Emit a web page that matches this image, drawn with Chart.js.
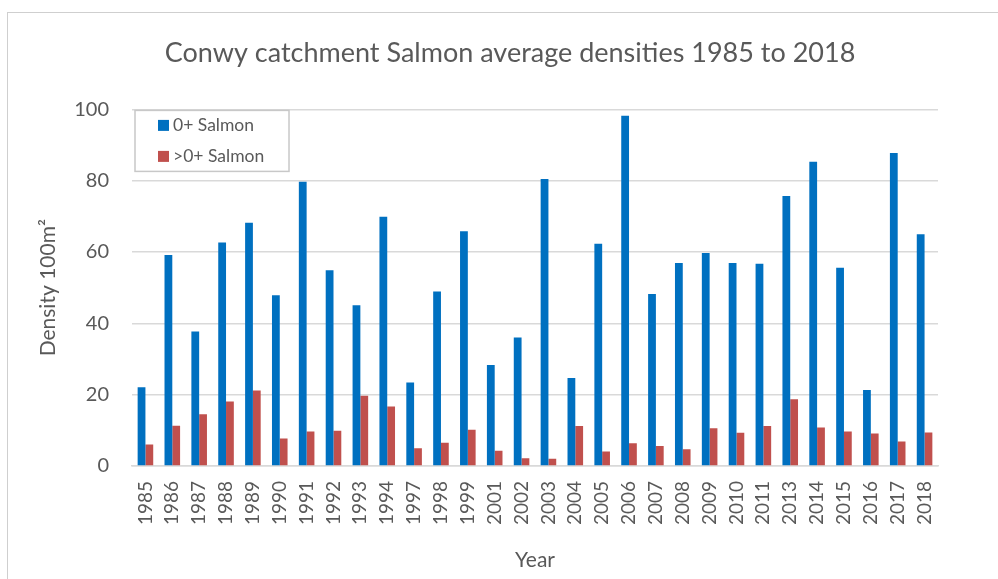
<!DOCTYPE html>
<html>
<head>
<meta charset="utf-8">
<title>Conwy catchment Salmon average densities</title>
<script src="https://cdn.jsdelivr.net/npm/chart.js@4.4.0/dist/chart.umd.min.js"></script>
<style>
  html, body { margin: 0; padding: 0; background: #fff; overflow: hidden; }
  #frame {
    position: absolute; left: 7px; top: 12px;
    width: 1100px; height: 700px;
    border: 1px solid #cfcfcf;
  }
  /* wider than the window so the title centres like the original */
  #wrap { position: absolute; left: 0; top: 0; width: 1020px; height: 579px; }
</style>
</head>
<body>
<div id="frame"></div>
<div id="wrap"><canvas id="myChart"></canvas></div>
<script>
// values
const years = ['1985', '1986', '1987', '1988', '1989', '1990', '1991', '1992', '1993', '1994',
  '1997', '1998', '1999', '2001', '2002', '2003', '2004', '2005', '2006', '2007',
  '2008', '2009', '2010', '2011', '2013', '2014', '2015', '2016', '2017', '2018'];

const salmon0 = [22.1, 59.2, 37.7, 62.7, 68.2, 47.9, 79.7, 54.9, 45.1, 69.9,
  23.4, 48.9, 65.8, 28.3, 36.0, 80.5, 24.7, 62.3, 98.2, 48.2,
  56.9, 59.7, 56.9, 56.7, 75.7, 85.3, 55.6, 21.3, 87.8, 65.0];

const salmonOver0 = [6.0, 11.3, 14.5, 18.1, 21.2, 7.7, 9.7, 9.9, 19.7, 16.7,
  5.0, 6.5, 10.2, 4.3, 2.2, 2.0, 11.2, 4.1, 6.4, 5.6,
  4.7, 10.6, 9.3, 11.2, 18.7, 10.8, 9.7, 9.1, 6.9, 9.4];

const textColor = '#595959';
const gridColor = '#d9d9d9';
const fontFamily = 'Lato, "Open Sans", sans-serif';

// legend box drawn inside the plot area, like the Excel original
const boxLegend = {
  id: 'boxLegend',
  afterDraw(chart) {
    const ctx = chart.ctx;
    const area = chart.chartArea;
    const x = area.left + 3;
    const y = area.top + 1;
    const w = 154;
    const h = 61;
    ctx.save();
    ctx.fillStyle = '#ffffff';
    ctx.fillRect(x, y, w, h);
    ctx.strokeStyle = '#c8c8c8';
    ctx.lineWidth = 1.5;
    ctx.strokeRect(x, y, w, h);
    ctx.font = '17.5px ' + fontFamily;
    ctx.textBaseline = 'middle';
    ctx.textAlign = 'left';
    chart.data.datasets.forEach((ds, i) => {
      const cy = y + 15 + i * 31;
      ctx.fillStyle = ds.backgroundColor;
      ctx.fillRect(x + 23, cy - 5.5, 11, 11);
      ctx.fillStyle = textColor;
      ctx.fillText(ds.label, x + 38, cy);
    });
    ctx.restore();
  }
};

const ctx = document.getElementById('myChart').getContext('2d');

const myChart = new Chart(ctx, {
  type: 'bar',
  data: {
    labels: years,
    datasets: [{
      label: '0+ Salmon',
      data: salmon0,
      backgroundColor: '#0070C0'
    }, {
      label: '>0+ Salmon',
      data: salmonOver0,
      backgroundColor: '#C0504D'
    }]
  },
  options: {
    responsive: true,
    maintainAspectRatio: false,
    animation: false,
    categoryPercentage: 0.58,
    barPercentage: 1.0,
    layout: {
      padding: 0
    },
    scales: {
      x: {
        afterFit: (scale) => { scale.height = 113; },
        grid: { display: false, drawTicks: false },
        border: { display: true, color: gridColor, width: 1.5 },
        ticks: {
          color: textColor,
          font: { family: fontFamily, size: 19 },
          minRotation: 90,
          maxRotation: 90,
          autoSkip: false,
          padding: 15
        },
        title: {
          display: true,
          text: 'Year',
          color: textColor,
          font: { family: fontFamily, size: 21 },
          padding: { top: 0, bottom: 6 }
        }
      },
      y: {
        min: 0,
        max: 100,
        afterFit: (scale) => { scale.width = 132; },
        grid: { color: gridColor, lineWidth: 1.5, drawTicks: false },
        border: { display: false },
        ticks: {
          stepSize: 20,
          color: textColor,
          font: { family: fontFamily, size: 20 },
          padding: 23
        },
        title: {
          display: true,
          text: 'Density 100m²',
          color: textColor,
          font: { family: fontFamily, size: 21 },
          padding: { top: 36, bottom: 0 }
        }
      },
      // empty right-hand axis, only there to leave the blank margin on the right
      spacer: {
        type: 'linear',
        position: 'right',
        afterFit: (scale) => { scale.width = 82; },
        grid: { display: false, drawOnChartArea: false, drawTicks: false },
        border: { display: false },
        ticks: { display: false }
      }
    },
    plugins: {
      legend: { display: false },
      tooltip: { enabled: false },
      title: {
        display: true,
        text: 'Conwy catchment Salmon average densities 1985 to 2018',
        color: textColor,
        font: { family: fontFamily, size: 27, weight: 'normal' },
        padding: { top: 37, bottom: 40 }
      }
    }
  },
  plugins: [boxLegend]
});
</script>
</body>
</html>
